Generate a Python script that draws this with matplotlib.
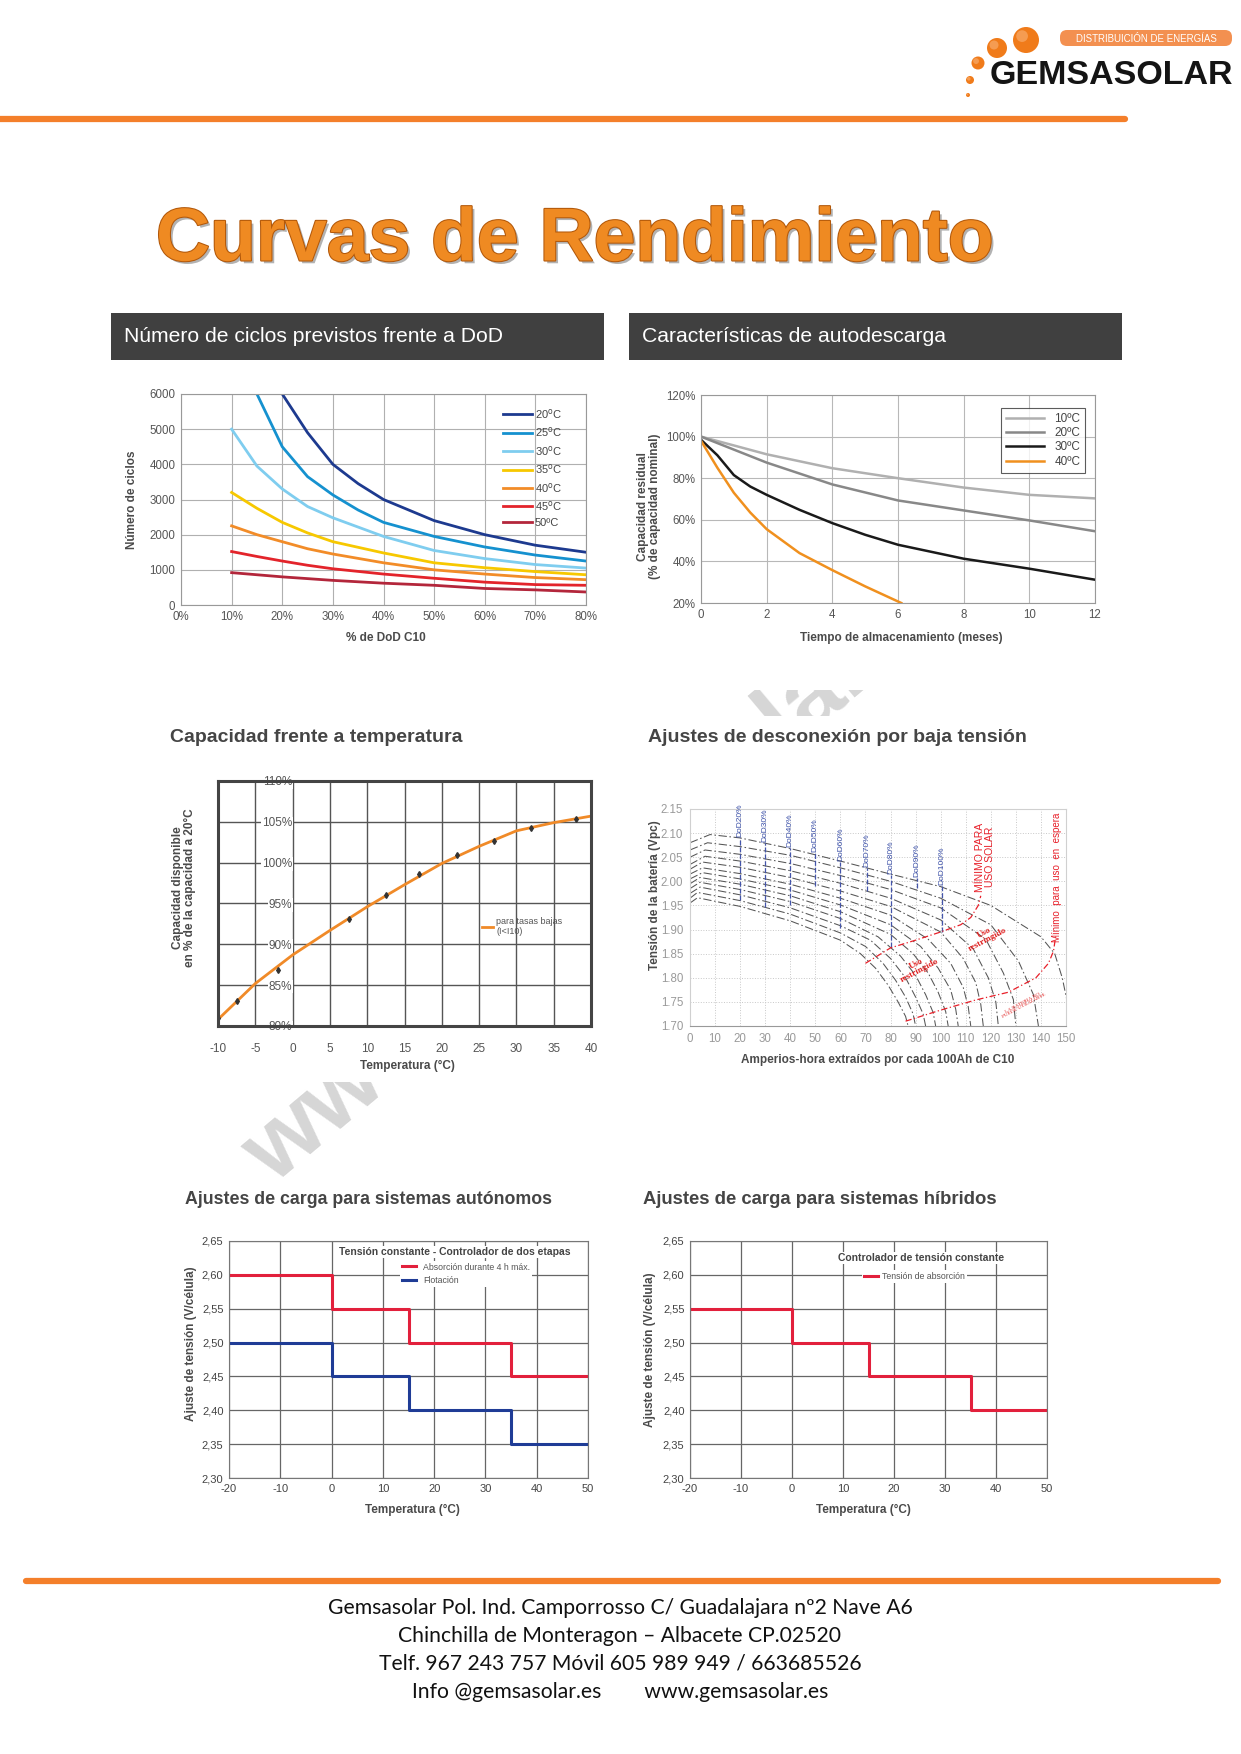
import matplotlib
matplotlib.use("Agg")
import matplotlib.pyplot as plt
import matplotlib.patheffects as pe
import matplotlib.ticker as mticker
from matplotlib.patches import Rectangle, Circle, FancyBboxPatch

# ---- data: ciclos vs DoD (x en %, y en ciclos)
cyc_20_x = [20, 25, 30, 35, 40, 50, 60, 70, 80]
cyc_20_y = [6000, 4900, 4000, 3450, 3000, 2400, 2000, 1700, 1500]
cyc_25_x = [15, 20, 25, 30, 35, 40, 50, 60, 70, 80]
cyc_25_y = [6000, 4500, 3650, 3130, 2700, 2350, 1950, 1650, 1420, 1250]
cyc_30_x = [10, 15, 20, 25, 30, 40, 50, 60, 70, 80]
cyc_30_y = [5000, 3950, 3300, 2800, 2480, 1950, 1550, 1320, 1150, 1050]
cyc_35_x = [10, 15, 20, 25, 30, 40, 50, 60, 70, 80]
cyc_35_y = [3200, 2750, 2350, 2050, 1800, 1480, 1200, 1060, 950, 860]
cyc_40_x = [10, 15, 20, 25, 30, 40, 50, 60, 70, 80]
cyc_40_y = [2250, 2000, 1800, 1600, 1450, 1200, 1000, 880, 780, 720]
cyc_45_x = [10, 15, 20, 25, 30, 40, 50, 60, 70, 80]
cyc_45_y = [1520, 1380, 1250, 1130, 1030, 880, 760, 650, 580, 560]
cyc_50_x = [10, 20, 30, 40, 50, 60, 70, 80]
cyc_50_y = [920, 800, 700, 620, 560, 470, 430, 370]

# ---- autodescarga (meses, % capacidad)
sd_10_x = [0, 2, 4, 6, 8, 10, 12]
sd_10_y = [100, 91.5, 84.8, 80, 75.5, 72, 70.3]
sd_20_x = [0, 2, 4, 6, 8, 10, 12]
sd_20_y = [100, 87.5, 77, 69.3, 64.5, 59.7, 54.5]
sd_30_x = [0, 0.5, 1, 1.5, 2, 3, 4, 5, 6, 8, 10, 12]
sd_30_y = [98.5, 91, 81.5, 76, 72, 64.8, 58.4, 52.8, 48, 41.3, 36.5, 31.2]
sd_40_x = [0, 0.5, 1, 1.5, 2, 3, 4, 5, 6.1]
sd_40_y = [98, 85, 73, 63.5, 55.5, 44, 35.8, 28, 20]

# ---- capacidad vs temperatura
cap_t = [-10, -5, 0, 5, 10, 15, 20, 25, 30, 35, 40]
cap_v = [80.8, 85.2, 88.7, 91.7, 94.6, 97.3, 99.9, 102.0, 103.9, 104.9, 105.7]
cap_pts_t = [-10, -7.5, -2, 7.5, 12.5, 17, 22, 27, 32, 38]
cap_pts_v = [81.0, 83.1, 86.9, 93.1, 96.1, 98.6, 100.9, 102.6, 104.2, 105.4]

# ---- desconexion por baja tension (Ah extraidos, Vpc)
lv_x = [
    [0, 3, 20, 40, 60, 68, 74, 79, 83, 86, 87],
    [0, 3, 20, 40, 60, 70, 77, 82, 86, 89, 90],
    [0, 4, 20, 40, 60, 72, 80, 86, 90, 93, 94],
    [0, 4, 20, 40, 60, 75, 84, 90, 94, 97, 98],
    [0, 4, 20, 40, 60, 80, 89, 95, 99, 102, 103],
    [0, 5, 20, 40, 60, 80, 92, 99, 104, 106, 107],
    [0, 5, 20, 40, 60, 80, 95, 104, 109, 111, 112],
    [0, 5, 20, 40, 60, 80, 100, 109, 114, 116, 117],
    [0, 6, 20, 40, 60, 80, 100, 113, 119, 122, 123],
    [0, 6, 20, 40, 60, 80, 100, 118, 125, 129, 130],
    [0, 7, 20, 40, 60, 80, 100, 120, 131, 137, 139],
    [0, 8, 20, 40, 60, 80, 100, 120, 140, 145.5, 148.5, 150.5, 151.5],
]
lv_y = [
    [1.955, 1.966, 1.948, 1.918, 1.878, 1.85, 1.82, 1.785, 1.75, 1.72, 1.70],
    [1.965, 1.977, 1.96, 1.932, 1.893, 1.865, 1.83, 1.795, 1.76, 1.725, 1.70],
    [1.975, 1.988, 1.972, 1.945, 1.908, 1.878, 1.84, 1.80, 1.76, 1.725, 1.70],
    [1.985, 1.998, 1.983, 1.958, 1.923, 1.885, 1.845, 1.805, 1.765, 1.728, 1.70],
    [1.995, 2.008, 1.994, 1.970, 1.937, 1.89, 1.85, 1.81, 1.77, 1.73, 1.70],
    [2.005, 2.018, 2.005, 1.982, 1.951, 1.91, 1.865, 1.82, 1.775, 1.735, 1.70],
    [2.015, 2.028, 2.016, 1.994, 1.965, 1.93, 1.88, 1.83, 1.78, 1.74, 1.70],
    [2.025, 2.040, 2.029, 2.008, 1.98, 1.948, 1.895, 1.84, 1.79, 1.745, 1.70],
    [2.035, 2.052, 2.042, 2.022, 1.996, 1.965, 1.92, 1.86, 1.80, 1.75, 1.70],
    [2.05, 2.065, 2.056, 2.037, 2.012, 1.983, 1.945, 1.88, 1.81, 1.755, 1.70],
    [2.065, 2.080, 2.072, 2.054, 2.028, 2.0, 1.965, 1.91, 1.835, 1.765, 1.70],
    [2.08, 2.097, 2.09, 2.068, 2.042, 2.015, 1.989, 1.95, 1.885, 1.85, 1.80, 1.75, 1.70],
]
dod_labels = ["DoD20%", "DoD30%", "DoD40%", "DoD50%", "DoD60%", "DoD70%", "DoD80%", "DoD90%", "DoD100%"]
dod_x = [20, 30, 40, 50, 60, 70.5, 80, 90.5, 100.5]
dod_top = [2.09, 2.08, 2.069, 2.058, 2.04, 2.028, 2.013, 2.007, 1.99]
dod_bottom = [1.961, 1.947, 1.95, 1.99, 1.903, 1.98, 1.864, 1.986, 1.895]
solar_min_x = [70, 80, 90, 100, 108, 112, 115, 116]
solar_min_y = [1.83, 1.862, 1.878, 1.895, 1.91, 1.925, 1.95, 1.97]
standby_min_x = [86, 100, 114, 127, 138, 143, 145, 146]
standby_min_y = [1.71, 1.733, 1.754, 1.77, 1.80, 1.83, 1.855, 1.89]

# ---- ajustes de carga
step_t = [-20, 0, 15, 35, 50]
abs_auto = [2.60, 2.55, 2.50, 2.45, 2.45]
float_auto = [2.50, 2.45, 2.40, 2.35, 2.35]
abs_hybrid = [2.55, 2.50, 2.45, 2.40, 2.40]

footer_lines = [
    "Gemsasolar Pol. Ind. Camporrosso C/ Guadalajara nº2 Nave A6",
    "Chinchilla de Monteragon – Albacete CP.02520",
    "Telf. 967 243 757 Móvil 605 989 949 / 663685526",
    "Info @gemsasolar.es        www.gemsasolar.es",
]

W, H = 1241, 1754
plt.rcParams["font.family"] = ["Liberation Sans", "DejaVu Sans"]
plt.rcParams["axes.unicode_minus"] = False
fig = plt.figure(figsize=(W / 100, H / 100), dpi=100)
fig.patch.set_facecolor("white")

# page layer in pixel coords
page = fig.add_axes([0, 0, 1, 1])
page.set_xlim(0, W)
page.set_ylim(H, 0)
page.axis("off")
page.set_zorder(-1)


def px_axes(x0, y0, x1, y1):
    return fig.add_axes([x0 / W, 1 - y1 / H, (x1 - x0) / W, (y1 - y0) / H])


# watermark + white image areas
page.text(610, 870, "www.gemsasolar.es", fontsize=70, fontweight="bold", color="#d6d6d6",
          rotation=40, ha="center", va="center", zorder=1)
for (y0, y1) in [(362, 690), (716, 1082), (1185, 1530)]:
    page.add_patch(Rectangle((100, y0), 1030, y1 - y0, fc="white", ec="none", zorder=2))

# header
page.plot([0, 1125], [119, 119], color="#f47f2a", lw=4.5, solid_capstyle="round", zorder=3)
for (cx, cy, r) in [(1026, 40, 13), (997, 48, 10), (978, 63, 6.5), (970, 80, 4), (968, 95, 2)]:
    page.add_patch(Circle((cx, cy), r, fc="#f07b1a", ec="none", zorder=3))
    page.add_patch(Circle((cx - r * 0.3, cy - r * 0.3), r * 0.45, fc="#f8ab6a", ec="none", alpha=0.7, zorder=3))
page.add_patch(FancyBboxPatch((1060, 30), 172, 16, boxstyle="round,pad=0,rounding_size=7",
                              fc="#f39050", ec="none", zorder=3))
page.text(1146, 38.5, "DISTRIBUICIÓN DE ENERGÍAS", color="white", fontsize=7, ha="center", va="center", zorder=4)
page.text(990, 75, "GEMSASOLAR", fontsize=24.5, fontweight="bold", color="#141414", va="center", zorder=3)

page.text(575, 241, "Curvas de Rendimiento", fontsize=54, fontweight="bold", color="#ef8a22",
          ha="center", va="center", zorder=3,
          path_effects=[pe.SimplePatchShadow(offset=(2, -2), shadow_rgbFace="#666", alpha=0.5),
                        pe.Stroke(linewidth=1.5, foreground="#b2580a"), pe.Normal()])

for (x0, txt) in [(111, "Número de ciclos previstos frente a DoD"), (629, "Características de autodescarga")]:
    page.add_patch(Rectangle((x0, 313), 493, 47, fc="#404040", ec="none", zorder=3))
    page.text(x0 + 13, 337, txt, color="white", fontsize=15.2, va="center", zorder=4)

for (x, y, txt, fs) in [(170, 738, "Capacidad frente a temperatura", 14),
                        (648, 738, "Ajustes de desconexión por baja tensión", 14),
                        (185, 1200, "Ajustes de carga para sistemas autónomos", 12.8),
                        (643, 1200, "Ajustes de carga para sistemas híbridos", 13.3)]:
    page.text(x, y, txt, fontsize=fs, fontweight="bold", color="#454545", va="center", zorder=3)

# footer
page.plot([26, 1218], [1581, 1581], color="#f47f2a", lw=4.5, solid_capstyle="round", zorder=3)
for i, line in enumerate(footer_lines):
    page.text(620, 1608 + 28 * i, line, fontsize=15.2, color="#111", ha="center", va="center",
              family=["Lato", "DejaVu Sans"], zorder=3)

lab = dict(fontweight="bold", color="#4a4a4a", fontsize=8.5)

# ---------- 1: ciclos vs DoD
ax = px_axes(181, 394, 586, 605)
series = [(cyc_20_x, cyc_20_y, "#1d3a8f", "20$^{\\rm o}$C"),
          (cyc_25_x, cyc_25_y, "#1591cf", "25$^{\\rm o}$C"),
          (cyc_30_x, cyc_30_y, "#7fcdef", "30$^{\\rm o}$C"),
          (cyc_35_x, cyc_35_y, "#f7c800", "35$^{\\rm o}$C"),
          (cyc_40_x, cyc_40_y, "#f28c28", "40$^{\\rm o}$C"),
          (cyc_45_x, cyc_45_y, "#e3242b", "45$^{\\rm o}$C"),
          (cyc_50_x, cyc_50_y, "#b3263b", "50ºC")]
for x, y, c, l in series:
    ax.plot(x, y, color=c, lw=2, label=l)
ax.set_xlim(0, 80)
ax.set_ylim(0, 6000)
ax.set_xticks(range(0, 81, 10))
ax.xaxis.set_major_formatter(mticker.FormatStrFormatter("%d%%"))
ax.set_yticks(range(0, 6001, 1000))
ax.grid(color="#b0b0b0", lw=0.8)
ax.tick_params(length=0, labelsize=8.3, labelcolor="#555", pad=4)
for s in ax.spines.values():
    s.set_color("#999")
ax.set_ylabel("Número de ciclos", va="center", **lab)
ax.yaxis.set_label_coords(-0.121, 0.5)
ax.set_xlabel("% de DoD C10", va="center", **lab)
ax.xaxis.set_label_coords(0.506, -0.156)
ax.legend(loc="upper right", bbox_to_anchor=(0.955, 0.965), frameon=False, fontsize=8,
          handlelength=2.6, labelspacing=0.4, borderpad=0, handletextpad=0.3, labelcolor="#444")

# ---------- 2: autodescarga
ax = px_axes(701, 395, 1095, 603)
for x, y, c, l in [(sd_10_x, sd_10_y, "#b0b0b0", "10ºC"), (sd_20_x, sd_20_y, "#888888", "20ºC"),
                   (sd_30_x, sd_30_y, "#1a1a1a", "30ºC"), (sd_40_x, sd_40_y, "#f0901e", "40ºC")]:
    ax.plot(x, y, color=c, lw=1.8, label=l)
ax.set_xlim(0, 12)
ax.set_ylim(20, 120)
ax.set_xticks(range(0, 13, 2))
ax.set_yticks(range(20, 121, 20))
ax.yaxis.set_major_formatter(mticker.FormatStrFormatter("%d%%"))
ax.grid(color="#b8b8b8", lw=0.8)
ax.tick_params(length=0, labelsize=8.3, labelcolor="#555", pad=4)
for s in ax.spines.values():
    s.set_color("#999")
ax.set_ylabel("Capacidad residual\n(% de capacidad nominal)", va="center", linespacing=1.0, **lab)
ax.yaxis.set_label_coords(-0.132, 0.466)
ax.set_xlabel("Tiempo de almacenamiento (meses)", va="center", **lab)
ax.xaxis.set_label_coords(0.508, -0.168)
lg = ax.legend(loc="upper right", bbox_to_anchor=(0.99, 0.966), fontsize=8.5, handlelength=3.2,
               labelspacing=0.2, borderpad=0.4, handletextpad=0.9, fancybox=False, labelcolor="#444")
lg.get_frame().set_edgecolor("#333")
lg.get_frame().set_linewidth(0.8)

# ---------- 3: capacidad vs temperatura
ax = px_axes(218, 781, 591, 1026)
ax.plot(cap_t, cap_v, color="#f08a28", lw=2, label="para tasas bajas\n(I<I10)")
ax.plot(cap_pts_t, cap_pts_v, ls="none", marker="d", ms=3, color="#333")
ax.set_xlim(-10, 40)
ax.set_ylim(80, 110)
ax.set_xticks(range(-10, 41, 5))
ax.set_yticks(range(80, 111, 5))
ax.yaxis.set_major_formatter(mticker.FormatStrFormatter("%d%%"))
ax.set_axisbelow(True)
ax.grid(color="#555", lw=1.0)
ax.tick_params(axis="x", length=0, labelsize=8.5, labelcolor="#555", pad=12)
ax.tick_params(axis="y", length=0, labelsize=8.5, labelcolor="#555", pad=-53.5)
for t in ax.get_yticklabels():
    t.set_bbox(dict(fc="white", ec="none", pad=0.6))
for s in ax.spines.values():
    s.set_color("#444")
    s.set_linewidth(2.2)
ax.set_ylabel("Capacidad disponible\nen % de la capacidad a 20°C", va="center", linespacing=1.0, **lab)
ax.yaxis.set_label_coords(-0.091, 0.563)
ax.set_xlabel("Temperatura (°C)", va="center", **lab)
ax.xaxis.set_label_coords(0.509, -0.163)
ax.legend(loc="center left", bbox_to_anchor=(0.685, 0.405), frameon=False, fontsize=6.5,
          handlelength=1.3, handletextpad=0.3, labelcolor="#555")

# ---------- 4: desconexion por baja tension
ax = px_axes(690, 809, 1066, 1026)
for x, y in zip(lv_x, lv_y):
    ax.plot(x, y, color="#555555", lw=0.75, ls=(0, (8, 2.5, 1.5, 2.5)))
for x, t, b, l in zip(dod_x, dod_top, dod_bottom, dod_labels):
    ax.plot([x, x], [b, t], color="#4455aa", lw=0.9, ls=(0, (4, 1.5)))
    ax.text(x, t + 0.002, l, rotation=90, ha="center", va="bottom", fontsize=6, color="#3a4fa8")
ax.plot(solar_min_x, solar_min_y, color="#e8202a", lw=0.9, ls=(0, (5, 2, 1, 2)))
ax.plot(standby_min_x, standby_min_y, color="#e8202a", lw=0.9, ls=(0, (5, 2, 1, 2)))
ax.text(117.7, 2.05, "MÍNIMO PARA\nUSO SOLAR", rotation=90, ha="center", va="center", fontsize=7.5,
        color="#e8202a", linespacing=1.0)
ax.text(146.4, 2.008, "Mínimo  para  uso  en  espera", rotation=90, ha="center", va="center",
        fontsize=7, color="#e8202a")
for (x, y) in [(91, 1.822), (118, 1.886)]:
    ax.text(x, y, "Uso\nrestringido", rotation=28, ha="center", va="center", fontsize=6.5,
            fontweight="bold", color="#e02020", family=["Liberation Serif", "DejaVu Serif"], linespacing=0.9)
ax.text(133, 1.745, "LA BATERIA NO\nPUEDE UTILIZARSE", rotation=28, ha="center", va="center", fontsize=3.8,
        color="#e02020", family=["Liberation Serif", "DejaVu Serif"], linespacing=0.9)
ax.set_xlim(0, 150)
ax.set_ylim(1.70, 2.15)
ax.set_xticks(range(0, 151, 10))
ax.set_yticks([1.70, 1.75, 1.80, 1.85, 1.90, 1.95, 2.00, 2.05, 2.10, 2.15])
ax.yaxis.set_major_formatter(mticker.FormatStrFormatter("%.2f"))
ax.grid(color="#c8c8c8", lw=0.7, ls=":")
ax.tick_params(length=0, labelsize=8.3, labelcolor="#9a9a9a", pad=5)
for k, s in ax.spines.items():
    s.set_color("#d0d0d0")
ax.spines["bottom"].set_color("#999")
ax.set_ylabel("Tensión de la batería (Vpc)", va="center", **lab)
ax.yaxis.set_label_coords(-0.093, 0.604)
ax.set_xlabel("Amperios-hora extraídos por cada 100Ah de C10", va="center", **lab)
ax.xaxis.set_label_coords(0.5, -0.157)

# ---------- 5 & 6: ajustes de carga
comma = mticker.FuncFormatter(lambda v, p: f"{v:.2f}".replace(".", ","))


def charge_axes(box, title, tpos, ylab_pos, xlab_pos):
    ax = px_axes(*box)
    ax.set_xlim(-20, 50)
    ax.set_ylim(2.30, 2.65)
    ax.set_xticks(range(-20, 51, 10))
    ax.set_yticks([2.30, 2.35, 2.40, 2.45, 2.50, 2.55, 2.60, 2.65])
    ax.yaxis.set_major_formatter(comma)
    ax.grid(color="#666", lw=0.9)
    ax.tick_params(length=0, labelsize=8, labelcolor="#444", pad=4)
    for s in ax.spines.values():
        s.set_color("#777")
    ax.text(tpos[0], tpos[1], title, transform=ax.transAxes, ha="center", va="center", fontsize=7.5,
            fontweight="bold", color="#444", bbox=dict(fc="white", ec="none", pad=0.5))
    ax.set_ylabel("Ajuste de tensión (V/célula)", va="center", **lab)
    ax.yaxis.set_label_coords(*ylab_pos)
    ax.set_xlabel("Temperatura (°C)", va="center", **lab)
    ax.xaxis.set_label_coords(*xlab_pos)
    return ax


ax = charge_axes((229, 1241, 588, 1478), "Tensión constante - Controlador de dos etapas", (0.63, 0.954),
                 (-0.106, 0.565), (0.51, -0.135))
ax.step(step_t, abs_auto, where="post", color="#e2203c", lw=2.2, label="Absorción durante 4 h máx.")
ax.step(step_t, float_auto, where="post", color="#1f3c96", lw=2.2, label="Flotación")
ax.legend(loc="upper left", bbox_to_anchor=(0.465, 0.935), fontsize=6.3, handlelength=1.6,
          labelspacing=0.5, borderpad=0.2, handletextpad=0.8, fancybox=False, framealpha=1,
          edgecolor="none", labelcolor="#555")

ax = charge_axes((690, 1241, 1047, 1478), "Controlador de tensión constante", (0.647, 0.928),
                 (-0.112, 0.54), (0.485, -0.135))
ax.step(step_t, abs_hybrid, where="post", color="#e2203c", lw=2.2, label="Tensión de absorción")
ax.legend(loc="upper left", bbox_to_anchor=(0.47, 0.895), fontsize=6.3, handlelength=1.6,
          borderpad=0.2, handletextpad=0.5, fancybox=False, framealpha=1, edgecolor="none",
          labelcolor="#555")

fig.savefig("out.png", dpi=100, facecolor="white")
